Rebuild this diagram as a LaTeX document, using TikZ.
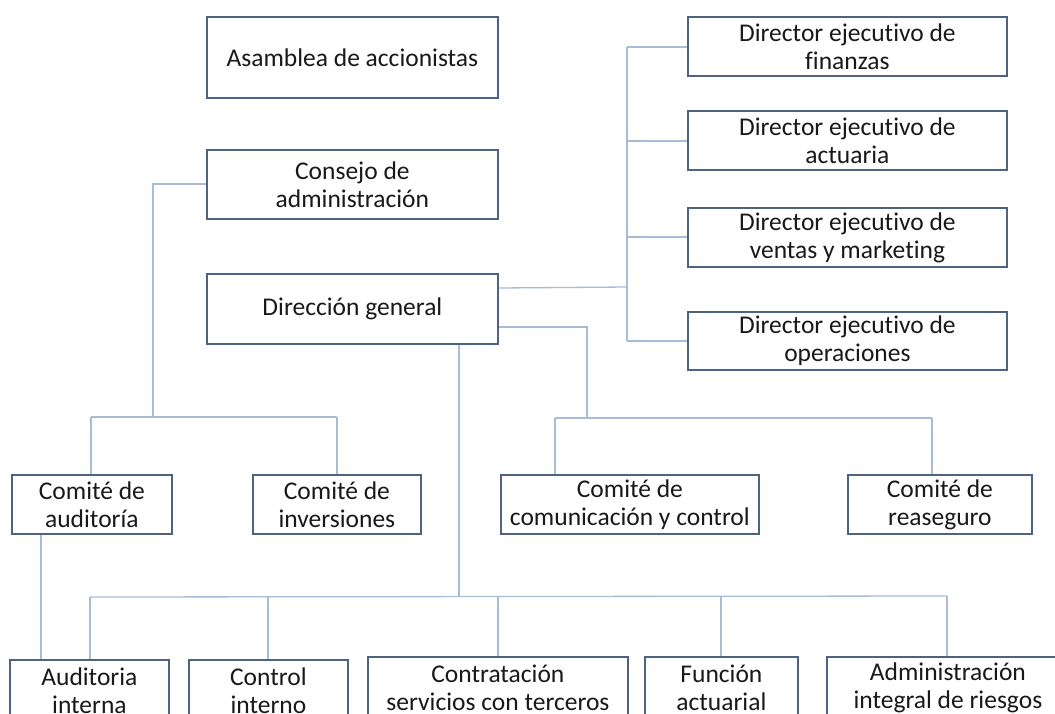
\documentclass[tikz,border=0pt]{standalone}
\usepackage{fontspec}
\setmainfont{Carlito}[Ligatures=NoCommon]
\definecolor{boxc}{HTML}{4D6380}
\definecolor{linec}{HTML}{A8BCD6}
\newcommand\orgbox[6]{%
  \node[box, minimum width={(#4-#2)*1pt}, minimum height={(#5-#3)*1pt}] (#1) at (#2,#3) {#6};}
\begin{document}
\begin{tikzpicture}[x=1pt,y=-1pt,
  box/.style={draw=boxc, line width=1.8pt, fill=white, inner sep=0pt, anchor=north west,
    align=center, font=\fontsize{25.5}{28}\selectfont, text=black!90},
  con/.style={draw=linec, line width=1.3pt}]
\useasboundingbox (0,0) rectangle (1055,713);
\clip (0,0) rectangle (1055,713);
% connector bend points
\coordinate (k1) at (153,184);
\coordinate (k2) at (153,417);
\coordinate (kl) at (91,417);
\coordinate (kr) at (337,417);
\coordinate (t1) at (627,47);
\coordinate (t2) at (627,341);
\coordinate (tg) at (627,287);
\coordinate (m1) at (587,327);
\coordinate (m2) at (587,418);
\coordinate (ml) at (555,418);
\coordinate (mr) at (932,418);
\coordinate (b1) at (459,343);
\coordinate (b2) at (459,597);
\coordinate (bl) at (90,597);
\coordinate (br) at (947,596);
\coordinate (bc) at (268,597);
\coordinate (bs) at (498,597);
\coordinate (bf) at (721,596);
\coordinate (au) at (41,533);
% boxes
\orgbox{asam}{206}{16}{497}{97}{Asamblea de accionistas}
\orgbox{cons}{206}{149}{497}{218}{Consejo de\\administración}
\orgbox{dg}{206}{273}{497}{343}{Dirección general}
\orgbox{fin}{687}{16}{1006}{75}{Director ejecutivo de\\finanzas}
\orgbox{act}{687}{110}{1006}{169}{Director ejecutivo de\\actuaria}
\orgbox{ven}{687}{207}{1006}{266}{Director ejecutivo de\\ventas y marketing}
\orgbox{ope}{687}{311}{1006}{369}{Director ejecutivo de\\operaciones}
\orgbox{caud}{11}{474}{171}{533}{Comité de\\auditoría}
\orgbox{cinv}{252}{474}{420}{533}{Comité de\\inversiones}
\orgbox{ccom}{500}{474}{758}{533}{Comité de\\comunicación y control}
\orgbox{crea}{847}{474}{1031}{533}{Comité de\\reaseguro}
\orgbox{ai}{9}{659}{168}{720}{Auditoria\\interna}
\orgbox{ci}{188}{659}{347}{720}{Control\\interno}
\orgbox{cst}{367}{656}{627}{718}{Contratación\\servicios con terceros}
\orgbox{fa}{644}{656}{797}{718}{Función\\actuarial}
\orgbox{air}{826}{656}{1068}{718}{Administración\\integral de riesgos}
% consejo branch
\draw[con] (cons.west |- k1) -- (k1) -- (k2);
\draw[con] (kl) -- (kr);
\draw[con] (kl) -- (kl |- caud.north);
\draw[con] (kr) -- (kr |- cinv.north);
% directors trunk
\draw[con] (t1) -- (t2);
\draw[con] (t1) -- (t1 -| fin.west);
\draw[con] (627,141) -- (627,141 -| act.west);
\draw[con] (627,237) -- (627,237 -| ven.west);
\draw[con] (t2) -- (t2 -| ope.west);
\draw[con] (dg.east |- 0,288) -- (tg);
% committees branch
\draw[con] (dg.east |- m1) -- (m1) -- (m2);
\draw[con] (ml) -- (mr);
\draw[con] (ml) -- (ml |- ccom.north);
\draw[con] (mr) -- (mr |- crea.north);
% bottom branch
\draw[con] (b1 |- dg.south) -- (b2);
\draw[con] (bl) -- (br);
\draw[con] (bl) -- (bl |- ai.north);
\draw[con] (bc) -- (bc |- ci.north);
\draw[con] (bs) -- (bs |- cst.north);
\draw[con] (bf) -- (bf |- fa.north);
\draw[con] (br) -- (br |- air.north);
\draw[con] (au |- caud.south) -- (au |- ai.north);
\end{tikzpicture}
\end{document}
